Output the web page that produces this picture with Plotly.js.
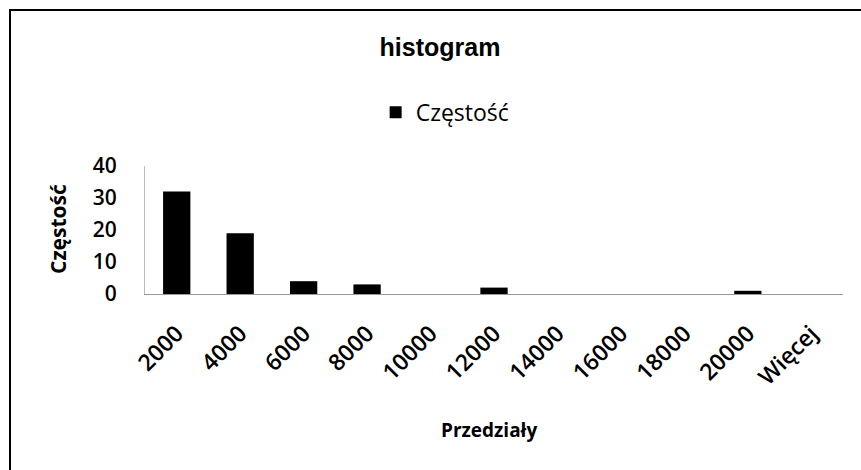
<!DOCTYPE html>
<html>
<head>
<meta charset="utf-8">
<script src="https://cdn.plot.ly/plotly-3.0.1.min.js"></script>
<style>
html,body{margin:0;padding:0;background:#fff;}
#wrap{position:relative;width:861px;height:470px;overflow:hidden;}
#frame{position:absolute;left:9px;top:9px;width:900px;height:500px;border-left:2px solid #000;border-top:2px solid #000;}
#chart{position:absolute;left:0;top:0;width:861px;height:470px;}
</style>
</head>
<body>
<div id="wrap">
<div id="frame"></div>
<div id="chart"></div>
</div>
<script>
var categories = ['2000','4000','6000','8000','10000','12000','14000','16000','18000','20000','Więcej'];
var frequency = [32, 19, 4, 3, 0, 2, 0, 0, 0, 1, 0];
var yTicks = [0, 10, 20, 30, 40];
var xTitle = 'Przedziały';
var yTitle = 'Częstość';

var trace = {
  type: 'bar',
  x: categories,
  y: frequency,
  name: 'Częstość',
  marker: {color: '#000000'},
  showlegend: true
};

var layout = {
  width: 861,
  height: 470,
  paper_bgcolor: 'rgba(0,0,0,0)',
  plot_bgcolor: 'rgba(0,0,0,0)',
  margin: {l: 145, r: 18, t: 166, b: 176},
  bargap: 0.57,
  title: {
    text: 'histogram',
    x: 440/861, xanchor: 'center',
    y: 1 - 47/470, yanchor: 'middle',
    font: {family: 'Liberation Sans, Arial, sans-serif', size: 25, color: '#000', weight: 'bold'}
  },
  showlegend: true,
  legend: {
    orientation: 'h',
    x: 0.43, xanchor: 'center',
    y: 1.42, yanchor: 'middle',
    font: {family: 'Open Sans, sans-serif', size: 23, color: '#000'},
    itemwidth: 30
  },
  xaxis: {
    type: 'category',
    tickangle: -45,
    tickfont: {family: 'Open Sans, sans-serif', size: 23, color: '#000', weight: 600},
    showgrid: false,
    showline: true,
    linecolor: '#999',
    linewidth: 1,
    ticks: '',
    ticklabelstandoff: 16,
    automargin: false
  },
  yaxis: {
    range: [0, 40],
    tickvals: yTicks,
    tickfont: {family: 'Open Sans, sans-serif', size: 21, color: '#000', weight: 600},
    showgrid: false,
    zeroline: false,
    showline: true,
    linecolor: '#bbb',
    linewidth: 1,
    ticks: '',
    ticklabelstandoff: 23,
    automargin: false
  },
  annotations: [
    {
      text: xTitle, xref: 'paper', yref: 'paper',
      x: (489 - 145) / 698, y: -(430 - 294) / 128,
      xanchor: 'center', yanchor: 'middle', showarrow: false,
      font: {family: 'Open Sans, sans-serif', size: 19, color: '#000', weight: 'bold'}
    },
    {
      text: yTitle, xref: 'paper', yref: 'paper',
      x: (58 - 145) / 698, y: (294 - 229) / 128,
      xanchor: 'center', yanchor: 'middle', showarrow: false, textangle: -90,
      font: {family: 'Open Sans, sans-serif', size: 21, color: '#000', weight: 'bold'}
    }
  ]
};

Plotly.newPlot('chart', [trace], layout, {displayModeBar: false, staticPlot: true});
</script>
</body>
</html>
